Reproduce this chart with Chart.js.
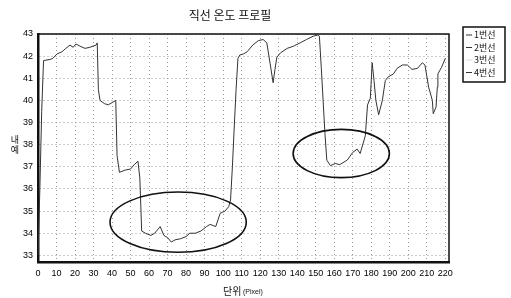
<!DOCTYPE html>
<html>
<head>
<meta charset="utf-8">
<script src="https://cdn.jsdelivr.net/npm/chart.js@4/dist/chart.umd.min.js"></script>
<style>
  html, body { margin: 0; padding: 0; background: #fff; }
</style>
</head>
<body>
<canvas id="profile" width="511" height="298"></canvas>
<script>
// profile (x in pixels, y in degrees)
const xs = [0, 1, 2, 3, 6.5, 8, 10.3, 13, 15, 17.3, 19, 20.5, 22.7, 25.4, 28, 31.4, 32, 32.6, 33.5, 36, 38, 40, 42, 42.7,
  44, 47, 50, 52, 54, 55, 56, 58, 61, 63, 66, 68, 70, 72, 74, 77, 80, 82, 85, 88, 91, 93, 96, 98.4, 101, 103, 104,
  105, 106, 107, 108, 109, 111, 113, 116, 119, 121.6, 123.6, 125.4, 127, 128, 129, 131, 134.6, 138, 141.6, 145, 148.6,
  151, 152, 153, 154, 155, 156, 158, 160.5, 163, 167, 170, 172.4, 174, 176.8, 178, 179.5, 180.5, 181.5, 182.5, 184,
  186, 187.6, 189, 192, 194, 196.8, 199.5, 202, 205, 207.6, 209, 211, 213, 213.5, 215, 215.7, 216, 218, 220];
const line1 = [33.0, 36.0, 39.5, 41.8, 41.85, 41.9, 42.1, 42.2, 42.35, 42.5, 42.4, 42.55, 42.45, 42.35, 42.4, 42.5, 42.6, 40.5, 40.0, 39.85, 39.8, 39.9, 40.0, 37.5,
  36.75, 36.85, 36.9, 37.1, 37.25, 36.5, 34.1, 34.0, 33.9, 34.0, 34.3, 33.9, 33.8, 33.6, 33.7, 33.75, 33.85, 34.0, 34.0, 34.1, 34.3, 34.4, 34.3, 34.9, 35.0, 35.2, 35.5,
  37.0, 38.8, 40.5, 41.9, 42.05, 42.1, 42.2, 42.5, 42.7, 42.75, 42.6, 41.65, 40.8, 41.4, 41.95, 42.15, 42.35, 42.45, 42.6, 42.75, 42.9,
  42.95, 42.9, 41.5, 40.0, 38.5, 37.3, 37.05, 37.15, 37.1, 37.3, 37.65, 37.8, 37.6, 38.4, 39.8, 40.1, 41.7, 40.9, 40.0, 39.35,
  40.0, 40.9, 41.05, 41.2, 41.45, 41.6, 41.6, 41.4, 41.45, 41.7, 41.6, 40.6, 40.0, 39.4, 39.7, 40.6, 41.2, 41.5, 41.9];

const seriesNames = ['1번선', '2번선', '3번선', '4번선'];
const xTicks = [0, 10, 20, 30, 40, 50, 60, 70, 80, 90, 100, 110, 120, 130, 140, 150, 160, 170, 180, 190, 200, 210, 220];
const yTicks = [33, 34, 35, 36, 37, 38, 39, 40, 41, 42, 43];

// hand-drawn ellipses (centre x, centre y, half width, half height in data units)
const ringCx = [75.7, 163.8];
const ringCy = [34.5, 37.6];
const ringRx = [36.8, 26];
const ringRy = [1.36, 1.09];

const tickFont = { family: '"Liberation Sans", sans-serif', size: 9, weight: 'normal' };

const extras = {
  id: 'extras',
  afterDraw(chart) {
    const ctx = chart.ctx, a = chart.chartArea;
    const xs_ = chart.scales.x, ys_ = chart.scales.y;
    ctx.save();
    // frame top/right
    ctx.strokeStyle = '#111';
    ctx.lineWidth = 1.5;
    ctx.beginPath();
    ctx.moveTo(a.left, a.top); ctx.lineTo(a.right, a.top); ctx.lineTo(a.right, a.bottom);
    ctx.stroke();

    // ellipses
    ctx.lineWidth = 1.6;
    for (let i = 0; i < ringCx.length; i++) {
      const cx = xs_.getPixelForValue(ringCx[i]);
      const cy = ys_.getPixelForValue(ringCy[i]);
      const rx = Math.abs(xs_.getPixelForValue(ringCx[i] + ringRx[i]) - cx);
      const ry = Math.abs(ys_.getPixelForValue(ringCy[i] + ringRy[i]) - cy);
      ctx.beginPath();
      ctx.ellipse(cx, cy, rx, ry, 0, 0, Math.PI * 2);
      ctx.stroke();
    }

    // title
    ctx.fillStyle = '#111';
    ctx.textAlign = 'center';
    ctx.textBaseline = 'middle';
    ctx.font = '12px "Noto Sans CJK KR"';
    ctx.fillText('직선 온도 프로필', 230, 15);

    // x axis title
    ctx.textAlign = 'left';
    ctx.font = '10px "Noto Sans CJK KR"';
    ctx.fillText('단위', 223, 291);
    ctx.font = '7px "Liberation Sans", sans-serif';
    ctx.fillText('(Pixel)', 243, 292);

    // y axis title
    ctx.textAlign = 'center';
    ctx.font = '9px "Noto Sans CJK KR"';
    ctx.fillText('내', 15, 140);
    ctx.fillText('예', 15, 150);

    // legend box
    ctx.lineWidth = 1.5;
    ctx.strokeRect(463, 27, 42, 55);
    ctx.font = '9px "Noto Sans CJK KR"';
    ctx.textAlign = 'left';
    seriesNames.forEach((name, i) => {
      const y = 35 + i * 12.5;
      const ds = chart.data.datasets[i];
      ctx.strokeStyle = ds.borderColor;
      ctx.lineWidth = 1;
      ctx.beginPath(); ctx.moveTo(466, y); ctx.lineTo(472, y); ctx.stroke();
      ctx.fillText(name, 474, y);
    });
    ctx.restore();
  }
};

new Chart(document.getElementById('profile'), {
  type: 'line',
  data: {
    datasets: [
      { label: seriesNames[0], data: xs.map((x, i) => ({ x: x, y: line1[i] })), borderColor: '#333', borderWidth: 1, pointRadius: 0, tension: 0 },
      { label: seriesNames[1], data: [], borderColor: '#333', borderWidth: 1, pointRadius: 0 },
      { label: seriesNames[2], data: [], borderColor: '#ddd', borderWidth: 1, pointRadius: 0 },
      { label: seriesNames[3], data: [], borderColor: '#333', borderWidth: 1, pointRadius: 0 }
    ]
  },
  options: {
    responsive: false,
    animation: false,
    layout: { padding: { top: 34, right: 62, left: 0, bottom: 0 } },
    plugins: {
      legend: { display: false },
      title: { display: false },
      tooltip: { enabled: false }
    },
    scales: {
      x: {
        type: 'linear',
        min: 0,
        max: 222,
        afterBuildTicks: s => { s.ticks = xTicks.map(v => ({ value: v })); },
        afterFit: s => { s.height = 36; },
        ticks: { color: '#000', font: tickFont, padding: 6, maxRotation: 0, autoSkip: false },
        grid: { color: '#999', drawTicks: false },
        border: { color: '#111', width: 2.5, dash: [1, 3] }
      },
      y: {
        min: 32.7,
        max: 43,
        afterBuildTicks: s => { s.ticks = yTicks.map(v => ({ value: v })); },
        afterFit: s => { s.width = 38; },
        ticks: { color: '#000', font: tickFont, padding: 5 },
        grid: { color: '#999', drawTicks: false },
        border: { color: '#111', width: 2.5, dash: [1, 3] }
      }
    }
  },
  plugins: [extras]
});
</script>
</body>
</html>
